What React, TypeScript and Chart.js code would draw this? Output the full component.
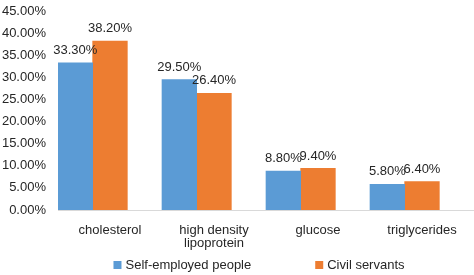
import React, { useEffect, useRef } from "react";
import { Chart, registerables } from "chart.js";

Chart.register(...registerables);

const categories: (string | string[])[] = [
  "cholesterol",
  ["high density", "lipoprotein"],
  "glucose",
  "triglycerides",
];
const selfEmployed = [33.3, 29.5, 8.8, 5.8];
const civilServants = [38.2, 26.4, 9.4, 6.4];
// empty third slot in each group (keeps the bar pair left of the label)
const emptySlot = [null, null, null, null];
const seriesNames = ["Self-employed people", "Civil servants"];
const seriesColors = ["#5B9BD5", "#ED7D31"];
const yMax = 45;
const yStep = 5;

const FONT = "'Liberation Sans', Arial, sans-serif";
const TEXT = "#262626";

const pct = (v: number) => `${v.toFixed(2)}%`;

// Value labels above each bar
const barValueLabels = {
  id: "barValueLabels",
  afterDatasetsDraw(chart: any) {
    const ctx = chart.ctx;
    ctx.save();
    ctx.font = `13px ${FONT}`;
    ctx.fillStyle = TEXT;
    ctx.textAlign = "center";
    ctx.textBaseline = "middle";
    chart.data.datasets.forEach((ds: any, i: number) => {
      const meta = chart.getDatasetMeta(i);
      meta.data.forEach((bar: any, j: number) => {
        const v = ds.data[j];
        if (v == null) return;
        ctx.fillText(pct(v), bar.x, bar.y - 12.5);
      });
    });
    ctx.restore();
  },
};

// Single-row legend under the axis with wide spacing between entries
const bottomLegend = {
  id: "bottomLegend",
  afterDraw(chart: any) {
    const ctx = chart.ctx;
    const box = 8;
    const gapText = 4;
    const gapItems = 64;
    ctx.save();
    ctx.font = `13px ${FONT}`;
    const items = chart.data.datasets.filter((ds: any) => ds.label);
    const widths = items.map((ds: any) => box + gapText + ctx.measureText(ds.label).width);
    const total = widths.reduce((a: number, b: number) => a + b, 0) + gapItems * (widths.length - 1);
    let x = 259 - total / 2;
    const y = chart.height - 10;
    ctx.textBaseline = "middle";
    ctx.textAlign = "left";
    items.forEach((ds: any, i: number) => {
      ctx.fillStyle = ds.backgroundColor;
      ctx.fillRect(x, y - box / 2, box, box);
      ctx.fillStyle = TEXT;
      ctx.fillText(ds.label, x + box + gapText, y);
      x += widths[i] + gapItems;
    });
    ctx.restore();
  },
};

export default function App() {
  const canvasRef = useRef<HTMLCanvasElement | null>(null);

  useEffect(() => {
    if (!canvasRef.current) return;
    const barOpts = { categoryPercentage: 1, barPercentage: 1 };
    const chart = new Chart(canvasRef.current, {
      type: "bar",
      data: {
        labels: categories,
        datasets: [
          { label: seriesNames[0], data: selfEmployed, backgroundColor: seriesColors[0], ...barOpts },
          { label: seriesNames[1], data: civilServants, backgroundColor: seriesColors[1], ...barOpts },
          { label: "", data: emptySlot, backgroundColor: "transparent", ...barOpts },
        ],
      },
      options: {
        responsive: false,
        animation: false,
        devicePixelRatio: 1,
        // plot area runs a little past the right edge of the canvas
        layout: { padding: { left: 0, right: -4, top: 11, bottom: 25 } },
        plugins: {
          legend: { display: false },
          tooltip: { enabled: false },
        },
        scales: {
          x: {
            grid: { display: false, drawTicks: false },
            border: { display: true, color: "#d9d9d9", width: 1 },
            ticks: {
              color: TEXT,
              font: { family: FONT, size: 13, lineHeight: 1.0 },
              padding: 13.5,
              maxRotation: 0,
              autoSkip: false,
            },
            afterFit: (scale: any) => {
              scale.height = 40;
              scale.paddingRight = -4;
            },
          },
          y: {
            min: 0,
            max: yMax,
            grid: { display: false, drawTicks: false },
            border: { display: false },
            ticks: {
              stepSize: yStep,
              color: TEXT,
              font: { family: FONT, size: 13 },
              padding: 12,
              callback: (v: any) => pct(Number(v)),
            },
            afterFit: (scale: any) => {
              scale.width = 58;
              scale.paddingTop = 0;
              scale.paddingBottom = 0;
              scale.paddingRight = -4;
            },
          },
        },
      },
      plugins: [barValueLabels, bottomLegend],
    });
    return () => chart.destroy();
  }, []);

  return (
    <div style={{ position: "absolute", left: 0, top: 0, width: 474, height: 275, background: "#fff" }}>
      <canvas ref={canvasRef} width={474} height={275} />
    </div>
  );
}
